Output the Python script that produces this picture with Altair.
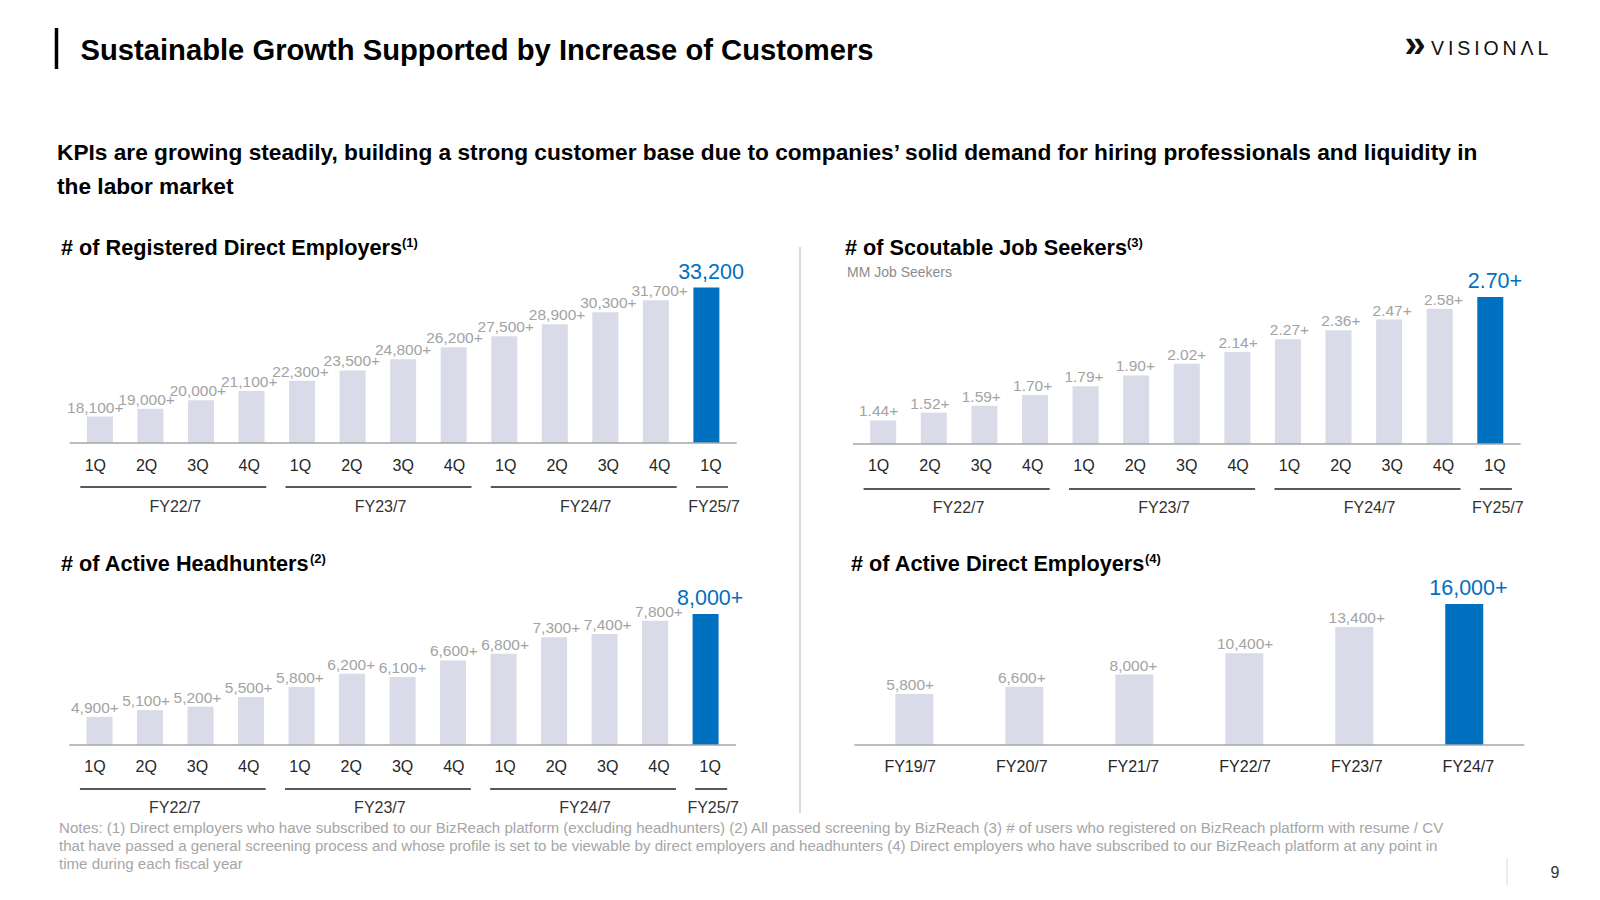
import altair as alt
import pandas as pd

# ---------------- data ----------------
quarters = ["1Q", "2Q", "3Q", "4Q", "1Q", "2Q", "3Q", "4Q", "1Q", "2Q", "3Q", "4Q", "1Q"]
fiscal_years = ["FY22/7"] * 4 + ["FY23/7"] * 4 + ["FY24/7"] * 4 + ["FY25/7"]
registered_employers = [18100, 19000, 20000, 21100, 22300, 23500, 24800, 26200, 27500, 28900, 30300, 31700, 33200]
scoutable_seekers = [1.44, 1.52, 1.59, 1.70, 1.79, 1.90, 2.02, 2.14, 2.27, 2.36, 2.47, 2.58, 2.70]
active_headhunters = [4900, 5100, 5200, 5500, 5800, 6200, 6100, 6600, 6800, 7300, 7400, 7800, 8000]
annual_years = ["FY19/7", "FY20/7", "FY21/7", "FY22/7", "FY23/7", "FY24/7"]
active_employers = [5800, 6600, 8000, 10400, 13400, 16000]

registered_labels = [f"{v:,}+" for v in registered_employers[:-1]] + [f"{registered_employers[-1]:,}"]
seeker_labels = [f"{v:.2f}+" for v in scoutable_seekers]
headhunter_labels = [f"{v:,}+" for v in active_headhunters]
employer_labels = [f"{v:,}+" for v in active_employers]

title_text = "Sustainable Growth Supported by Increase of Customers"
subtitle_lines = [
    "KPIs are growing steadily, building a strong customer base due to companies\u2019 solid demand for hiring professionals and liquidity in",
    "the labor market",
]
notes_lines = [
    "Notes: (1) Direct employers who have subscribed to our BizReach platform (excluding headhunters) (2) All passed screening by BizReach (3) # of users who registered on BizReach platform with resume / CV",
    "that have passed a general screening process and whose profile is set to be viewable by direct employers and headhunters (4) Direct employers who have subscribed to our BizReach platform at any point in",
    "time during each fiscal year",
]

# ---------------- style ----------------
FONT = "Liberation Sans, Arial, Helvetica, sans-serif"
BLUE = "#0070c0"
BAR_GREY = "#d9dbe8"
LABEL_GREY = "#a3a3a3"
AXIS_GREY = "#a6a6a6"
GROUP_LINE = "#595959"


def P(v):
    # page pixel -> chart pixel (page has an 8px margin)
    return v - 8


def one():
    return pd.DataFrame({"k": [0]})


def text_layer(txt, x, y, size, weight="normal", color="#000000", align="left", baseline="middle",
               font=FONT, line_height=None):
    kw = dict(align=align, baseline=baseline, fontSize=size, fontWeight=weight, color=color, font=font, text=txt)
    if line_height is not None:
        kw["lineHeight"] = line_height
    return alt.Chart(one()).mark_text(**kw).encode(x=alt.value(P(x)), y=alt.value(P(y)))


def panel(cats, groups, values, labels, x_first, x_last, y_base, y_top, y_floor, bar_w, cat_y,
          line_y=None, group_y=None, cat_size=16):
    n = len(values)
    step = (x_last - x_first) / (n - 1)
    x0, x1 = x_first - step / 2, x_last + step / 2
    xs = alt.Scale(domain=[-0.5, n - 0.5], range=[P(x0), P(x1)], nice=False, zero=False)
    ys = alt.Scale(domain=[y_floor, values[-1]], range=[P(y_base), P(y_top)], nice=False, zero=False)
    df = pd.DataFrame({
        "i": list(range(n)),
        "cat": cats,
        "value": values,
        "label": labels,
        "hl": [False] * (n - 1) + [True],
    })
    X = alt.X("i:Q", scale=xs, axis=None)
    Y = alt.Y("value:Q", scale=ys, axis=None)
    layers = []
    layers.append(
        alt.Chart(df).mark_bar(width=bar_w).encode(
            x=X, y=Y, y2=alt.datum(y_floor),
            color=alt.condition("datum.hl", alt.value(BLUE), alt.value(BAR_GREY)),
        )
    )
    layers.append(
        alt.Chart(one()).mark_rule(color=AXIS_GREY, strokeWidth=1.5).encode(
            x=alt.value(P(x0)), x2=alt.value(P(x1)), y=alt.value(P(y_base))
        )
    )
    layers.append(
        alt.Chart(df).transform_filter("!datum.hl").mark_text(
            baseline="alphabetic", dy=-4, fontSize=15.5, color=LABEL_GREY, font=FONT
        ).encode(x=X, y=Y, text="label:N")
    )
    layers.append(
        alt.Chart(df).transform_filter("datum.hl").mark_text(
            baseline="alphabetic", dy=-9, fontSize=21.5, color=BLUE, font=FONT
        ).encode(x=X, y=Y, text="label:N")
    )
    layers.append(
        alt.Chart(df).mark_text(baseline="middle", fontSize=cat_size, color="#262626", font=FONT).encode(
            x=X, y=alt.value(P(cat_y)), text="cat:N"
        )
    )
    if groups is not None:
        order = []
        for g in groups:
            if g not in order:
                order.append(g)
        rows = []
        for g in order:
            idx = [i for i, gg in enumerate(groups) if gg == g]
            rows.append({"fy": g, "first": idx[0], "last": idx[-1], "mid": (idx[0] + idx[-1]) / 2})
        gdf = pd.DataFrame(rows)
        layers.append(
            alt.Chart(gdf).mark_rule(color=GROUP_LINE, strokeWidth=1.8, xOffset=-15, x2Offset=17).encode(
                x=alt.X("first:Q", scale=xs, axis=None), x2="last:Q", y=alt.value(P(line_y))
            )
        )
        layers.append(
            alt.Chart(gdf).mark_text(baseline="middle", fontSize=16, color="#333333", font=FONT, dx=3).encode(
                x=alt.X("mid:Q", scale=xs, axis=None), y=alt.value(P(group_y)), text="fy:N"
            )
        )
    return layers


layers = []

# header
layers.append(
    alt.Chart(one()).mark_rule(color="#000000", strokeWidth=3.5).encode(
        x=alt.value(P(56.5)), y=alt.value(P(28)), y2=alt.value(P(69))
    )
)
layers.append(text_layer(title_text, 80.5, 50.5, 29.2, "bold", "#000000"))
layers.append(text_layer("\u00bb", 1415, 45.5, 38, "bold", "#111111", align="center"))
layers.append(text_layer("V\u2009I\u2009S\u2009I\u2009O\u2009N\u2009\u039b\u2009L", 1431, 48.5, 19.5, "normal", "#111111"))
layers.append(text_layer(subtitle_lines, 57, 153, 22.7, "bold", "#000000", line_height=34))

# panel titles
layers.append(text_layer("# of Registered Direct Employers", 61, 248, 21.7, "bold"))
layers.append(text_layer("(1)", 402, 243, 13, "bold"))
layers.append(text_layer("# of Scoutable Job Seekers", 845, 248, 21.7, "bold"))
layers.append(text_layer("(3)", 1127, 243, 13, "bold"))
layers.append(text_layer("MM Job Seekers", 847, 273, 14, "normal", "#8c8c8c"))
layers.append(text_layer("# of Active Headhunters", 61, 564, 21.7, "bold"))
layers.append(text_layer("(2)", 310, 559, 13, "bold"))
layers.append(text_layer("# of Active Direct Employers", 851, 564, 21.7, "bold"))
layers.append(text_layer("(4)", 1145, 559, 13, "bold"))

# panels
layers += panel(quarters, fiscal_years, registered_employers, registered_labels,
                95.3, 711.0, 443, 287.5, 15000, 26, 466, 487, 507)
layers += panel(quarters, fiscal_years, scoutable_seekers, seeker_labels,
                878.6, 1494.9, 444, 297, 1.2, 26, 466, 489, 508)
layers += panel(quarters, fiscal_years, active_headhunters, headhunter_labels,
                94.9, 710.2, 745, 614, 4050, 26, 767, 789, 808)
layers += panel(annual_years, None, active_employers, employer_labels,
                910.2, 1468.4, 745, 604, 0, 38, 767)

# divider
layers.append(
    alt.Chart(one()).mark_rule(color="#cfcfcf", strokeWidth=1.5).encode(
        x=alt.value(P(800)), y=alt.value(P(247)), y2=alt.value(P(813))
    )
)

# notes & page number
layers.append(text_layer(notes_lines, 59, 828, 15.1, "normal", "#a6a6a6", line_height=17.8))
layers.append(
    alt.Chart(one()).mark_rule(color="#d9d9d9", strokeWidth=1).encode(
        x=alt.value(P(1507)), y=alt.value(P(858)), y2=alt.value(P(885))
    )
)
layers.append(text_layer("9", 1555, 873, 16, "normal", "#333333", align="center"))

chart = (
    alt.layer(*layers)
    .resolve_scale(x="independent", y="independent")
    .properties(width=1584, height=878, autosize="none", padding=0, background="white")
    .configure_view(stroke=None)
)

chart.save("out.html", embed_options={"renderer": "svg", "actions": False})
